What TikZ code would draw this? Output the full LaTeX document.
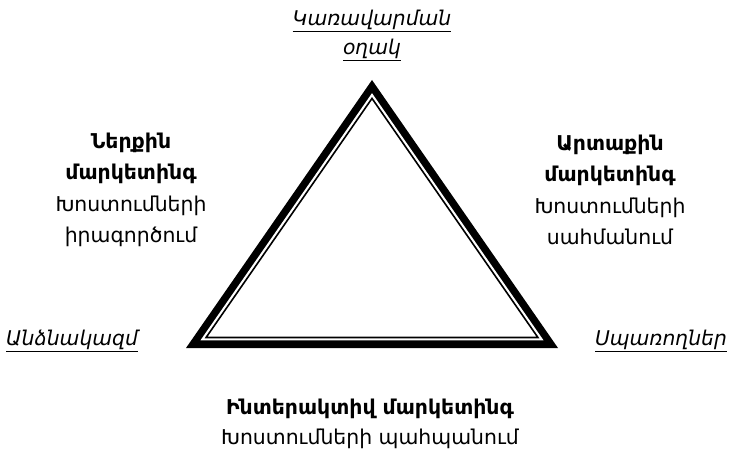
\documentclass[tikz,border=0pt]{standalone}
\usepackage{fontspec}
\setmainfont{DejaVu Sans}[ItalicFont={DejaVu Sans Oblique},BoldFont={DejaVu Sans Bold},BoldItalicFont={DejaVu Sans Bold Oblique}]
\usetikzlibrary{calc}
\begin{document}
\begin{tikzpicture}[x=1pt,y=-1pt,
  block/.style={align=center,inner sep=0pt,font=\fontsize{20.4}{31.5}\selectfont},
  corner/.style={align=center,inner sep=0pt,font=\fontsize{20.3}{29}\selectfont\itshape}]
\useasboundingbox (0,0) rectangle (731,452);
\coordinate (A) at (372,80);
\coordinate (B) at (186,348);
\coordinate (C) at (558,348);
\coordinate (I) at (372,250.68);
\fill[black] (A) -- (B) -- (C) -- cycle;
\fill[white] ($(I)!0.9229!(A)$) -- ($(I)!0.9229!(B)$) -- ($(I)!0.9229!(C)$) -- cycle;
\draw[black, line width=1.6pt] ($(I)!0.8921!(A)$) -- ($(I)!0.8921!(B)$) -- ($(I)!0.8921!(C)$) -- cycle;
\node[block] (left) at (131,190) {\textbf{Ներքին}\\\textbf{մարկետինգ}\\Խոստումների\\իրագործում};
\node[block] (right) at (610,190) {\textbf{Արտաքին}\\\textbf{մարկետինգ}\\Խոստումների\\սահմանում};
\node[block,font=\fontsize{20.4}{30}\selectfont] (bottom) at (370,424) {\textbf{Ինտերակտիվ մարկետինգ}\\Խոստումների պահպանում};
\node[corner] (top) at (372,35) {\underline{Կառավարման}\\\underline{օղակ}};
\node[corner] (staff) at (72,341) {\underline{Անձնակազմ}};
\node[corner] (cons) at (661,341) {\underline{Սպառողներ}};
\end{tikzpicture}
\end{document}
